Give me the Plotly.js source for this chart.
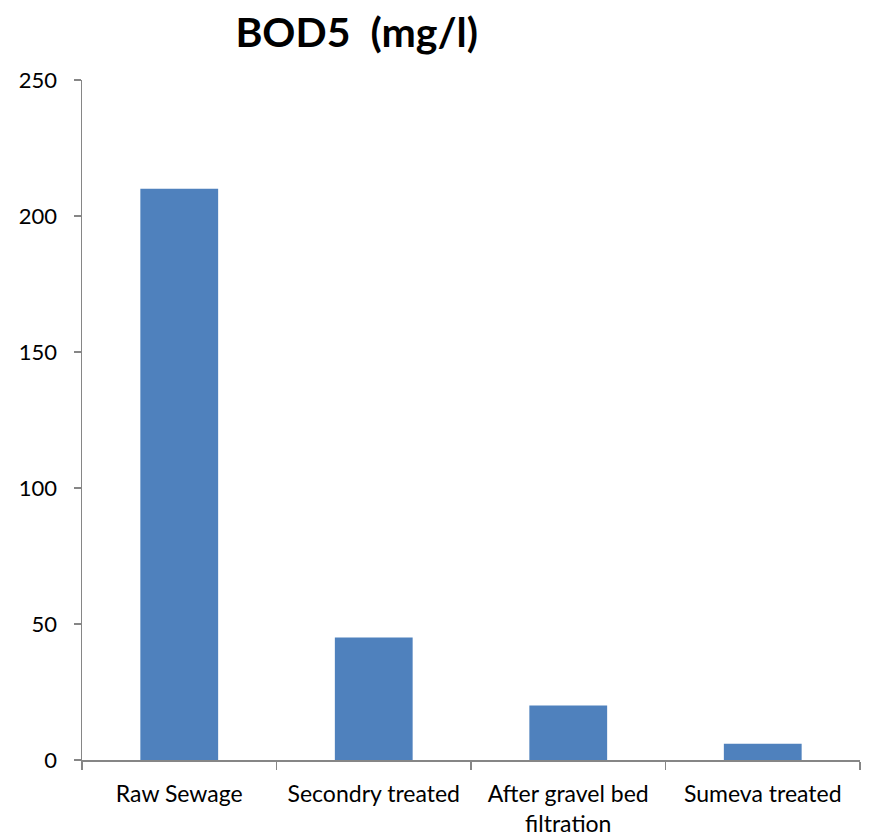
<!DOCTYPE html>
<html>
<head>
<meta charset="utf-8">
<script src="https://cdn.plot.ly/plotly-3.0.1.min.js"></script>
<style>
  html, body { margin: 0; padding: 0; background: #fff; }
  #chart { width: 870px; height: 840px; }
</style>
</head>
<body>
<div id="chart"></div>
<script>
// BOD5 concentration at each treatment stage
const categories = ["Raw Sewage", "Secondry treated", "After gravel bed<br>filtration", "Sumeva treated"];
const bodValues = [210, 45, 20, 6];
const yTicks = [0, 50, 100, 150, 200, 250];

const fontFamily = "Lato, 'Open Sans', sans-serif";
const axisGrey = "#868686";

const trace = {
  type: "bar",
  x: categories,
  y: bodValues,
  marker: { color: "#4F81BD", line: { width: 0 } },
  hoverinfo: "x+y"
};

const layout = {
  width: 870,
  height: 840,
  paper_bgcolor: "#ffffff",
  plot_bgcolor: "#ffffff",
  margin: { l: 82, r: 10, t: 80, b: 80 },
  bargap: 0.6,
  showlegend: false,
  font: { family: fontFamily, color: "#000000", size: 22 },
  title: {
    text: "<b>BOD5  (mg/l)</b>",
    font: { family: fontFamily, size: 41, color: "#000000" },
    x: 0.41,
    xanchor: "center",
    y: 0.961,
    yanchor: "middle"
  },
  xaxis: {
    type: "category",
    showgrid: false,
    zeroline: false,
    showline: true,
    linecolor: axisGrey,
    linewidth: 1.5,
    ticks: "outside",
    tickson: "boundaries",
    ticklen: 8,
    tickcolor: axisGrey,
    tickwidth: 1.5,
    ticklabelstandoff: 13,
    tickfont: { family: fontFamily, size: 23, color: "#000000" },
    fixedrange: true
  },
  yaxis: {
    range: [0, 250],
    tickvals: yTicks,
    showgrid: false,
    zeroline: false,
    showline: true,
    linecolor: axisGrey,
    linewidth: 1.5,
    ticks: "outside",
    ticklen: 7,
    tickcolor: axisGrey,
    tickwidth: 1.5,
    ticklabelstandoff: 12,
    tickfont: { family: fontFamily, size: 22, color: "#000000" },
    fixedrange: true
  }
};

Plotly.newPlot("chart", [trace], layout, { displayModeBar: false, staticPlot: true });
</script>
</body>
</html>
